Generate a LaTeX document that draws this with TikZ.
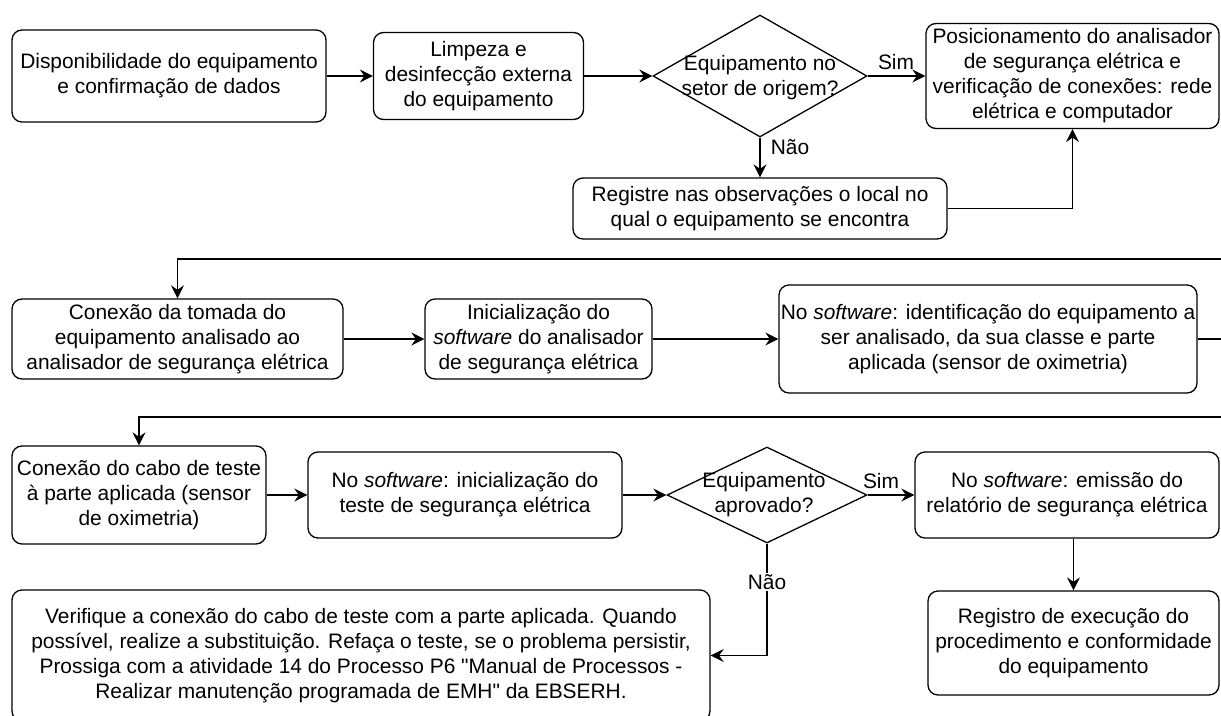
\documentclass[tikz,border=0pt]{standalone}
\usepackage{fontspec}
\setmainfont{Liberation Sans}[Ligatures=TeXOff]
\usetikzlibrary{shapes.geometric,arrows.meta}
\begin{document}
\begin{tikzpicture}[x=1pt,y=-1pt,
  every node/.style={font=\fontsize{20.9pt}{25pt}\selectfont},
  box/.style={draw, rounded corners=10pt, line width=1.3pt, align=center, inner sep=0pt},
  dia/.style={draw, diamond, line width=1.3pt, inner sep=0pt},
  lbl/.style={inner sep=1pt, align=center},
  conn/.style={line width=1.3pt, -{Stealth[length=13pt,width=13pt,inset=4.5pt]}},
  plain/.style={line width=1.3pt}
]
\useasboundingbox (0,0) rectangle (1221,715);
\clip (0,0) rectangle (1221,715);

% Row 1
\node[box, minimum width=314pt, minimum height=92pt] (b1) at (169,76) {Disponibilidade do equipamento\\e confirmação de dados};
\node[box, minimum width=210pt, minimum height=87pt] (b2) at (478.5,76) {Limpeza e\\desinfecção externa\\do equipamento};
\node[dia, minimum width=214pt, minimum height=122pt] (d1) at (760,76) {};
\node[lbl] (d1t) at (760,77.5) {Equipamento no\\setor de origem?};
\node[box, minimum width=293pt, minimum height=105pt] (posic) at (1072.5,76) {Posicionamento do analisador\\de segurança elétrica e\\verificação de conexões: rede\\elétrica e computador};
\node[box, minimum width=374pt, minimum height=61pt] (reg) at (760,208.5) {Registre nas observações o local no\\qual o equipamento se encontra};
\node[lbl] (sim1) at (896,62) {Sim};
\node[lbl] (nao1) at (790,147) {Não};

% Row 2
\node[box, minimum width=331pt, minimum height=80pt] (tomada) at (177.5,339) {Conexão da tomada do\\equipamento analisado ao\\analisador de segurança elétrica};
\node[box, minimum width=227pt, minimum height=80pt] (inic) at (538.5,339) {Inicialização do\\\textit{software} do analisador\\de segurança elétrica};
\node[box, minimum width=418pt, minimum height=108pt] (sw1) at (988,339) {No \textit{software}: identificação do equipamento a\\ser analisado, da sua classe e parte\\aplicada (sensor de oximetria)};

% Row 3
\node[box, minimum width=254pt, minimum height=98pt] (cabo) at (139,495) {Conexão do cabo de teste\\à parte aplicada (sensor\\de oximetria)};
\node[box, minimum width=314pt, minimum height=86pt] (sw2) at (465,495) {No \textit{software}: inicialização do\\teste de segurança elétrica};
\node[dia, minimum width=200pt, minimum height=96pt] (d2) at (767,495) {};
\node[lbl] (d2t) at (764,495) {Equipamento\\aprovado?};
\node[box, minimum width=304pt, minimum height=86pt] (emi) at (1067,495) {No \textit{software}: emissão do\\relatório de segurança elétrica};
\node[box, minimum width=291pt, minimum height=104pt] (regx) at (1073.5,643) {Registro de execução do\\procedimento e conformidade\\do equipamento};
\node[box, minimum width=698pt, minimum height=131pt] (verif) at (361,655.5) {Verifique a conexão do cabo de teste com a parte aplicada. Quando\\possível, realize a substituição. Refaça o teste, se o problema persistir,\\Prossiga com a atividade 14 do Processo P6 "Manual de Processos -\\Realizar manutenção programada de EMH" da EBSERH.};
\node[lbl] (sim2) at (881,481) {Sim};

% Connectors
\draw[conn] (b1.east) -- (b2.west);
\draw[conn] (b2.east) -- (d1.west);
\draw[conn] (d1.east) -- (posic.west);
\draw[conn] (d1.south) -- (reg.north);
\draw[conn] (reg.east) -| (posic.south);
\coordinate (e1) at (1240,259);
\draw[conn] (e1) -| (tomada.north);
\draw[conn] (tomada.east) -- (inic.west);
\draw[conn] (inic.east) -- (sw1.west);
\coordinate (e2) at (1240,339);
\draw[plain] (sw1.east) -- (e2);
\coordinate (e3) at (1240,417);
\draw[conn] (e3) -| (cabo.north);
\draw[conn] (cabo.east) -- (sw2.west);
\draw[conn] (sw2.east) -- (d2.west);
\draw[conn] (d2.east) -- (emi.west);
\draw[conn] (emi.south -| regx.north) -- (regx.north);
\draw[conn] (d2.south) |- (verif.east);
\node[lbl, fill=white] (nao2) at (767,582) {Não};
\end{tikzpicture}
\end{document}
